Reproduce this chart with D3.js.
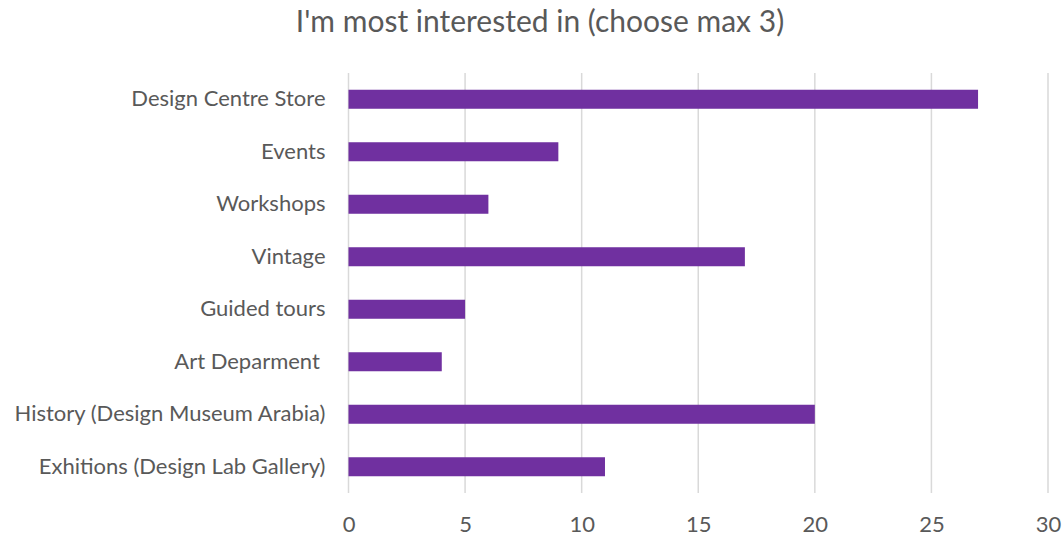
<!DOCTYPE html>
<html>
<head>
<meta charset="utf-8">
<script src="https://cdn.jsdelivr.net/npm/d3@7"></script>
<style>
  html, body { margin: 0; padding: 0; background: #fff; }
  svg { display: block; font-family: Lato, "Open Sans", sans-serif; }
  .tick text { white-space: pre; }
</style>
</head>
<body>
<script>
// Survey answers, listed top to bottom
const categories = [
  "Design Centre Store",
  "Events",
  "Workshops",
  "Vintage",
  "Guided tours",
  "Art Deparment ",
  "History (Design Museum Arabia)",
  "Exhitions (Design Lab Gallery)"
];
const counts = [27, 9, 6, 17, 5, 4, 20, 11];
const xTicks = [0, 5, 10, 15, 20, 25, 30];
const chartTitle = "I'm most interested in (choose max 3)";

const width = 1063, height = 540;
const margin = { top: 73, right: 15, bottom: 47, left: 348.5 };

const svg = d3.select("body").append("svg")
  .attr("width", width)
  .attr("height", height);

const x = d3.scaleLinear()
  .domain([0, 30])
  .range([margin.left, width - margin.right]);

const y = d3.scaleBand()
  .domain(categories)
  .range([margin.top, height - margin.bottom])
  .paddingInner(0.638)
  .paddingOuter(0.319);

// vertical gridlines
svg.append("g")
  .selectAll("line")
  .data(xTicks)
  .join("line")
  .attr("x1", d => x(d))
  .attr("x2", d => x(d))
  .attr("y1", margin.top)
  .attr("y2", height - margin.bottom)
  .attr("stroke", "#d9d9d9")
  .attr("stroke-width", 1.5);

// bars
svg.append("g")
  .selectAll("rect")
  .data(categories.map((c, i) => ({ c, v: counts[i] })))
  .join("rect")
  .attr("x", x(0))
  .attr("y", d => y(d.c))
  .attr("width", d => x(d.v) - x(0))
  .attr("height", y.bandwidth())
  .attr("fill", "#7030a0");

// category axis
const yAxis = svg.append("g")
  .attr("transform", `translate(${margin.left - 23},0)`)
  .call(d3.axisLeft(y).tickSize(0).tickPadding(0));
yAxis.select(".domain").remove();
yAxis.selectAll("text")
  .attr("fill", "#595959")
  .style("font-size", "22px")
  .style("font-family", "Lato, 'Open Sans', sans-serif");

// value axis
const xAxis = svg.append("g")
  .attr("transform", `translate(0,${height - margin.bottom})`)
  .call(d3.axisBottom(x).tickValues(xTicks).tickSize(0).tickPadding(23));
xAxis.select(".domain").remove();
xAxis.selectAll("text")
  .attr("fill", "#595959")
  .style("font-size", "22px")
  .style("font-family", "Lato, 'Open Sans', sans-serif");

// title
svg.append("text")
  .attr("x", 540)
  .attr("y", 32)
  .attr("text-anchor", "middle")
  .attr("fill", "#595959")
  .style("font-size", "30px")
  .text(chartTitle);
</script>
</body>
</html>
